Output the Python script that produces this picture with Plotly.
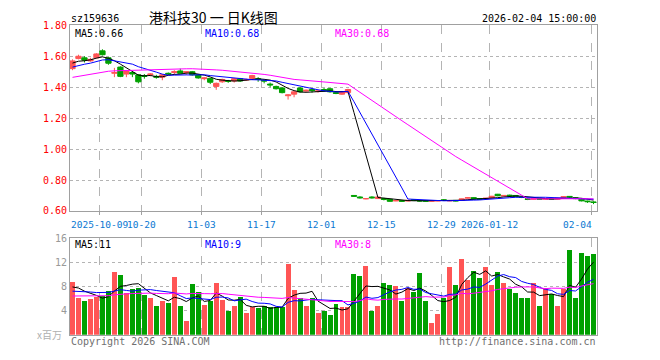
import plotly.graph_objects as go
import pandas as pd

# ---------------- data ----------------
dates = [
    "2025-09-24", "2025-09-25", "2025-09-26", "2025-09-29", "2025-09-30",
    "2025-10-09", "2025-10-10", "2025-10-13", "2025-10-14", "2025-10-15", "2025-10-16", "2025-10-17",
    "2025-10-20", "2025-10-21", "2025-10-22", "2025-10-23", "2025-10-24",
    "2025-10-27", "2025-10-28", "2025-10-29", "2025-10-30", "2025-10-31",
    "2025-11-03", "2025-11-04", "2025-11-05", "2025-11-06", "2025-11-07",
    "2025-11-10", "2025-11-11", "2025-11-12", "2025-11-13", "2025-11-14",
    "2025-11-17", "2025-11-18", "2025-11-19", "2025-11-20", "2025-11-21",
    "2025-11-24", "2025-11-25", "2025-11-26", "2025-11-27", "2025-11-28",
    "2025-12-01", "2025-12-02", "2025-12-03", "2025-12-04", "2025-12-05",
    "2025-12-08", "2025-12-09", "2025-12-10", "2025-12-11", "2025-12-12",
    "2025-12-15", "2025-12-16", "2025-12-17", "2025-12-18", "2025-12-19",
    "2025-12-22", "2025-12-23", "2025-12-24", "2025-12-25", "2025-12-26",
    "2025-12-29", "2025-12-30", "2025-12-31",
    "2026-01-05", "2026-01-06", "2026-01-07", "2026-01-08", "2026-01-09",
    "2026-01-12", "2026-01-13", "2026-01-14", "2026-01-15", "2026-01-16",
    "2026-01-19", "2026-01-20", "2026-01-21", "2026-01-22", "2026-01-23",
    "2026-01-26", "2026-01-27", "2026-01-28", "2026-01-29", "2026-01-30",
    "2026-02-02", "2026-02-03", "2026-02-04",
]

opens = [
    1.52, 1.585, 1.59, 1.57, 1.59, 1.635, 1.59, 1.49, 1.53, 1.485,
    1.495, 1.48, 1.475, 1.48, 1.47, 1.465, 1.49, 1.495, 1.505, 1.495,
    1.50, 1.48, 1.455, 1.457, 1.405, 1.435, 1.44, 1.44, 1.455, 1.446,
    1.457, 1.455, 1.445, 1.42, 1.405, 1.395, 1.345, 1.355, 1.395, 1.375,
    1.385, 1.372, 1.385, 1.39, 1.365, 1.355, 1.365,
    0.70, 0.69, 0.678, 0.69, 0.68, 0.68, 0.675, 0.665, 0.667, 0.664,
    0.672, 0.668, 0.666, 0.663, 0.664, 0.672, 0.665, 0.668, 0.668, 0.683,
    0.686, 0.680, 0.678, 0.684, 0.708, 0.696, 0.702, 0.700, 0.690, 0.678,
    0.675, 0.682, 0.675, 0.680, 0.676, 0.684, 0.694, 0.685, 0.676, 0.664,
    0.658,
]
highs = [
    1.58, 1.61, 1.60, 1.59, 1.62, 1.645, 1.595, 1.525, 1.535, 1.51,
    1.50, 1.485, 1.485, 1.49, 1.48, 1.485, 1.495, 1.51, 1.52, 1.50,
    1.505, 1.485, 1.465, 1.46, 1.43, 1.455, 1.447, 1.46, 1.46, 1.455,
    1.48, 1.465, 1.45, 1.43, 1.41, 1.40, 1.355, 1.375, 1.40, 1.385,
    1.39, 1.38, 1.395, 1.395, 1.37, 1.375, 1.39,
    0.700, 0.695, 0.682, 0.695, 0.692, 0.685, 0.678, 0.670, 0.670, 0.671,
    0.676, 0.670, 0.668, 0.667, 0.669, 0.676, 0.669, 0.670, 0.680, 0.690,
    0.688, 0.682, 0.684, 0.697, 0.710, 0.702, 0.705, 0.702, 0.692, 0.680,
    0.682, 0.684, 0.682, 0.683, 0.684, 0.695, 0.696, 0.688, 0.678, 0.666,
    0.662,
]
lows = [
    1.51, 1.58, 1.56, 1.565, 1.585, 1.605, 1.545, 1.465, 1.465, 1.465,
    1.465, 1.425, 1.455, 1.47, 1.455, 1.445, 1.48, 1.48, 1.49, 1.48,
    1.475, 1.455, 1.445, 1.42, 1.383, 1.428, 1.428, 1.43, 1.435, 1.44,
    1.45, 1.435, 1.425, 1.40, 1.385, 1.36, 1.32, 1.335, 1.365, 1.37,
    1.365, 1.365, 1.37, 1.365, 1.355, 1.35, 1.36,
    0.690, 0.680, 0.675, 0.680, 0.678, 0.668, 0.660, 0.663, 0.658, 0.662,
    0.664, 0.660, 0.660, 0.660, 0.662, 0.664, 0.663, 0.662, 0.666, 0.680,
    0.676, 0.672, 0.676, 0.682, 0.695, 0.694, 0.695, 0.690, 0.683, 0.670,
    0.672, 0.674, 0.673, 0.674, 0.675, 0.682, 0.686, 0.676, 0.662, 0.652,
    0.644,
]
closes = [
    1.57, 1.60, 1.575, 1.58, 1.615, 1.61, 1.555, 1.495, 1.47, 1.505,
    1.485, 1.435, 1.47, 1.485, 1.465, 1.48, 1.485, 1.50, 1.49, 1.50,
    1.48, 1.46, 1.46, 1.432, 1.425, 1.45, 1.438, 1.455, 1.44, 1.45,
    1.475, 1.45, 1.44, 1.415, 1.39, 1.365, 1.35, 1.37, 1.37, 1.38,
    1.378, 1.376, 1.375, 1.37, 1.36, 1.37, 1.385,
    0.695, 0.685, 0.680, 0.685, 0.690, 0.675, 0.662, 0.667, 0.663, 0.668,
    0.668, 0.664, 0.663, 0.665, 0.667, 0.668, 0.667, 0.665, 0.678, 0.685,
    0.678, 0.676, 0.682, 0.695, 0.698, 0.700, 0.698, 0.692, 0.688, 0.675,
    0.680, 0.676, 0.680, 0.676, 0.682, 0.692, 0.690, 0.680, 0.665, 0.660,
    0.655,
]
volumes = [
    8.7, 6.1, 5.6, 5.9, 6.2, 6.4, 7.3, 10.3, 9.8, 6.9,
    7.5, 7.7, 6.5, 6.0, 4.7, 5.5, 5.3, 9.5, 4.8, 2.3,
    8.4, 7.1, 4.9, 5.6, 8.5, 5.8, 3.9, 4.7, 6.3, 3.6,
    4.5, 4.4, 4.7, 4.5, 4.5, 4.6, 11.7, 7.4, 6.0, 4.7,
    6.1, 3.6, 4.0, 3.3, 5.0, 4.5, 4.6, 10.1, 9.7, 11.4,
    4.0, 4.8, 8.6, 8.2, 8.0, 5.6, 7.7, 7.0, 10.2, 5.6,
    1.9, 3.5, 6.1, 11.2, 8.3, 12.5, 9.1, 10.6, 9.4, 11.2,
    8.2, 10.4, 8.6, 7.6, 6.9, 6.1, 6.1, 8.5, 4.7, 7.7,
    6.7, 4.8, 7.6, 14.0, 6.1, 13.5, 13.1, 13.3,
]
# closes / volumes of the 29 sessions before the window (feed the moving averages)
prior_closes = [
    1.38, 1.39, 1.37, 1.40, 1.41, 1.40, 1.42, 1.43, 1.42, 1.44,
    1.43, 1.44, 1.45, 1.46, 1.44, 1.45, 1.47, 1.46, 1.48, 1.47,
    1.49, 1.50, 1.51, 1.50, 1.52, 1.54, 1.56, 1.55, 1.56,
]
prior_volumes = [
    5.5, 6.2, 5.8, 6.5, 5.2, 6.8, 6.0, 5.6, 6.3, 5.9,
    6.1, 5.7, 6.4, 6.0, 5.8, 6.6, 5.9, 6.2, 5.5, 6.0,
    6.2, 6.8, 6.0, 7.1, 6.4, 7.0, 8.2, 7.4, 8.2,
]
tick_dates = ["2025-10-09", "2025-10-20", "2025-11-03", "2025-11-17", "2025-12-01",
              "2025-12-15", "2025-12-29", "2026-01-12", "2026-02-04"]
tick_labels = ["2025-10-09", "10-20", "11-03", "11-17", "12-01",
               "12-15", "12-29", "2026-01-12", "02-04"]
price_ticks = [0.60, 0.80, 1.00, 1.20, 1.40, 1.60, 1.80]
volume_ticks = [4, 8, 12, 16]

title_text = "港科技30 一 日K线图"
code_text = "sz159636"
time_text = "2026-02-04 15:00:00"
price_ma_text = ["MA5:0.66", "MA10:0.68", "MA30:0.68"]
vol_ma_text = ["MA5:11", "MA10:9", "MA30:8"]

# ---------------- derived ----------------
n = len(dates)
xs = list(range(n))


def moving_avg(prior, values, w):
    s = pd.Series(prior + values).rolling(w).mean()
    return s.iloc[len(prior):].tolist()


RED = "#ff5555"
GREEN = "#00a000"
GRID = "#b4b4b4"
BORDER = "#a0a0a0"
MONO = "DejaVu Sans Mono, Liberation Mono, monospace"
MA_COLORS = ["#000000", "#0000ff", "#ff00ff"]
MA_WIN = [5, 10, 30]

W, H = 660, 360
PX0, PX1 = 70, 597          # plot left/right px
PY0, PY1 = 20, 212          # price panel top/bottom px
VY0, VY1 = 240, 340         # volume panel top/bottom px
PITCH = (PX1 - PX0) / n
x_lo = -(72.5 - PX0) / PITCH
x_hi = x_lo + (PX1 - PX0) / PITCH

tick_pos = [dates.index(d) - 0.42 for d in tick_dates]

fig = go.Figure()

fig.add_trace(go.Candlestick(
    x=xs, open=opens, high=highs, low=lows, close=closes,
    increasing=dict(line=dict(color=RED, width=1), fillcolor=RED),
    decreasing=dict(line=dict(color=GREEN, width=1), fillcolor=GREEN),
    whiskerwidth=0, xaxis="x", yaxis="y", showlegend=False, hoverinfo="skip",
))
for w, c in zip(MA_WIN, MA_COLORS):
    fig.add_trace(go.Scatter(x=xs, y=moving_avg(prior_closes, closes, w), mode="lines",
                             line=dict(color=c, width=1), xaxis="x", yaxis="y",
                             showlegend=False, hoverinfo="skip"))

bar_colors = [RED if c >= o else GREEN for o, c in zip(opens, closes)]
fig.add_trace(go.Bar(x=xs, y=volumes, marker=dict(color=bar_colors, line=dict(width=0)),
                     width=0.83, xaxis="x2", yaxis="y2", showlegend=False, hoverinfo="skip"))
for w, c in zip(MA_WIN, MA_COLORS):
    fig.add_trace(go.Scatter(x=xs, y=moving_avg(prior_volumes, volumes, w), mode="lines",
                             line=dict(color=c, width=1), xaxis="x2", yaxis="y2",
                             showlegend=False, hoverinfo="skip"))


def fx(px):
    return px / W


def fy(py):
    return 1 - py / H


xcommon = dict(range=[x_lo, x_hi], tickmode="array", tickvals=tick_pos, showticklabels=False,
               showgrid=True, gridcolor=GRID, griddash="dash", gridwidth=1, zeroline=False,
               showline=True, linecolor=BORDER, linewidth=1, mirror=True,
               domain=[fx(PX0), fx(PX1)], fixedrange=True)

fig.update_layout(
    width=W, height=H, autosize=False,
    margin=dict(l=0, r=0, t=0, b=0, pad=0),
    paper_bgcolor="white", plot_bgcolor="white",
    boxgap=0.12, boxgroupgap=0,
    xaxis=dict(anchor="y", rangeslider=dict(visible=False), ticks="outside", ticklen=3,
               tickcolor=BORDER, **xcommon),
    xaxis2=dict(anchor="y2", ticks="", **xcommon),
    yaxis=dict(domain=[fy(PY1), fy(PY0)], range=[0.60, 1.80], tickmode="array",
               tickvals=price_ticks, tickformat=".2f",
               tickfont=dict(family=MONO, size=10, color="#ff0000"),
               showgrid=True, gridcolor=GRID, griddash="dot", gridwidth=1, zeroline=False,
               showline=True, linecolor=BORDER, linewidth=1, mirror=True, ticks="",
               fixedrange=True),
    yaxis2=dict(domain=[fy(VY1), fy(VY0)], range=[0, 16], tickmode="array",
                tickvals=volume_ticks,
                tickfont=dict(family=MONO, size=10, color="#999999"),
                showgrid=True, gridcolor=GRID, griddash="dot", gridwidth=1, zeroline=False,
                showline=True, linecolor=BORDER, linewidth=1, mirror=True, ticks="",
                fixedrange=True),
    bargap=0,
)

ann = []


def txt(x, y, s, color="#000000", size=10, xanchor="left", family=MONO, xref="paper"):
    ann.append(dict(x=x, y=y, xref=xref, yref="paper", text=s, showarrow=False,
                    xanchor=xanchor, yanchor="middle",
                    font=dict(family=family, size=size, color=color)))


txt(fx(69), fy(13), code_text, size=10)
txt(fx(213), fy(11), title_text, size=14, xanchor="center",
    family="Noto Sans CJK SC, sans-serif")
txt(fx(598), fy(13), time_text, size=10, xanchor="right")

ma_x = [73, 203, 333]
for s, c, x in zip(price_ma_text, MA_COLORS, ma_x):
    txt(fx(x), fy(28), s, color=c, size=10)
for s, c, x in zip(vol_ma_text, MA_COLORS, ma_x):
    txt(fx(x), fy(247), s, color=c, size=10)

for p, s in zip(tick_pos, tick_labels):
    anchor = "right" if s == tick_labels[-1] else "center"
    xx = p + 0.42 if anchor == "right" else p
    ann.append(dict(x=xx, y=fy(226), xref="x", yref="paper", text=s, showarrow=False,
                    xanchor=anchor, yanchor="middle",
                    font=dict(family=MONO, size=9.5, color="#0a78d2")))

txt(fx(64), fy(340), "x百万", color="#b0b0b0", size=10, xanchor="right",
    family="Noto Sans CJK SC, sans-serif")
txt(fx(69), fy(347), "Copyright 2026 SINA.COM", color="#707070", size=10)
txt(fx(598), fy(347), "http://finance.sina.com.cn", color="#707070", size=10, xanchor="right")

fig.update_layout(annotations=ann)

fig.write_html(
    "out.html",
    config={"displayModeBar": False, "staticPlot": True},
    post_script="document.body.style.margin='0';document.body.style.padding='0';"
                "document.body.style.overflow='hidden';",
)
